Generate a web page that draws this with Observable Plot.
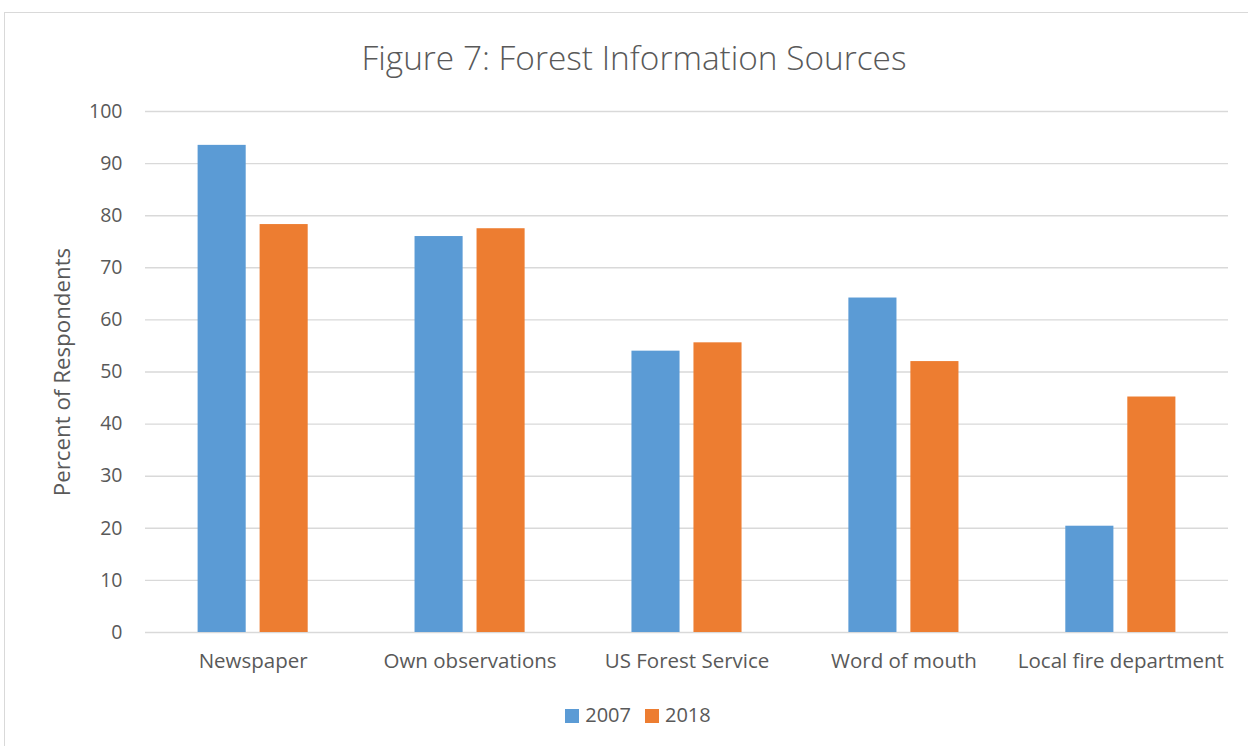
<!DOCTYPE html>
<html>
<head>
<meta charset="utf-8">
<script src="https://cdn.jsdelivr.net/npm/d3@7"></script>
<script src="https://cdn.jsdelivr.net/npm/@observablehq/plot@0.6"></script>
<style>
  html, body { margin: 0; padding: 0; background: #fff; }
  #wrap { position: relative; width: 1248px; height: 746px; overflow: hidden; font-family: "Open Sans", sans-serif; color: #595959; font-variant-ligatures: none; }
  #frame { position: absolute; left: 4px; top: 12px; width: 1300px; height: 800px; border: 1px solid #d9d9d9; box-sizing: border-box; }
  #title { position: absolute; left: 0; width: 1268px; top: 34px; text-align: center; font-size: 33.4px; font-weight: 300; line-height: 46px; }
  #chart { position: absolute; left: 0; top: 0; }
  #legend { position: absolute; left: 0; width: 1276px; top: 701px; text-align: center; font-size: 20px; line-height: 28px; }
  #legend span.item { display: inline-block; margin: 0 7px; }
  #legend span.sw { display: inline-block; width: 14px; height: 14px; margin-right: 6px; vertical-align: -1px; }
</style>
</head>
<body>
<div id="wrap">
  <div id="frame"></div>
  <div id="title">Figure 7: Forest Information Sources</div>
  <div id="chart"></div>
  <div id="legend"></div>
</div>
<script>
// Survey categories and share of respondents (%) per survey year
const sources = ["Newspaper", "Own observations", "US Forest Service", "Word of mouth", "Local fire department"];
const years = ["2007", "2018"];
const values2007 = [93.5, 76.0, 54.0, 64.2, 20.4];
const values2018 = [78.3, 77.5, 55.6, 52.0, 45.2];
const yTicks = [0, 10, 20, 30, 40, 50, 60, 70, 80, 90, 100];
const colors = ["#5B9BD5", "#ED7D31"];

const rows2007 = sources.map((s, i) => ({source: s, year: "2007", value: values2007[i]}));
const rows2018 = sources.map((s, i) => ({source: s, year: "2018", value: values2018[i]}));

// Each category band holds two bars of width 48 separated by a 14px gap
const barGap = 62;

const chart = Plot.plot({
  width: 1248,
  height: 746,
  marginTop: 111,
  marginBottom: 114,
  marginLeft: 145,
  marginRight: 20,
  style: {fontFamily: "'Open Sans', sans-serif", color: "#595959", background: "transparent", overflow: "visible"},
  x: {domain: sources, paddingInner: 0.4925, paddingOuter: 0.2425, round: false, label: null},
  y: {domain: [0, 100], ticks: yTicks, label: null},
  color: {domain: years, range: colors},
  marks: [
    Plot.ruleY(yTicks, {stroke: "#d9d9d9", strokeWidth: 1.4}),
    Plot.barY(rows2007, {x: "source", y: "value", fill: d => d.year, insetRight: barGap}),
    Plot.barY(rows2018, {x: "source", y: "value", fill: d => d.year, insetLeft: barGap}),
    Plot.axisY({ticks: yTicks, tickSize: 0, tickPadding: 23, fontSize: 19.5, fill: "#595959"}),
    Plot.axisX({tickSize: 0, tickPadding: 21, fontSize: 20.5, fill: "#595959"}),
    Plot.text(["Percent of Respondents"], {frameAnchor: "left", textAnchor: "middle", rotate: -90, dx: -83, fontSize: 22.3, fill: "#595959"})
  ]
});
document.getElementById("chart").appendChild(chart);

// Legend built from the color scale
const scale = chart.scale("color");
const legend = document.getElementById("legend");
scale.domain.forEach((y, i) => {
  const item = document.createElement("span");
  item.className = "item";
  const sw = document.createElement("span");
  sw.className = "sw";
  sw.style.background = scale.range[i];
  item.appendChild(sw);
  item.appendChild(document.createTextNode(y));
  legend.appendChild(item);
});
</script>
</body>
</html>
